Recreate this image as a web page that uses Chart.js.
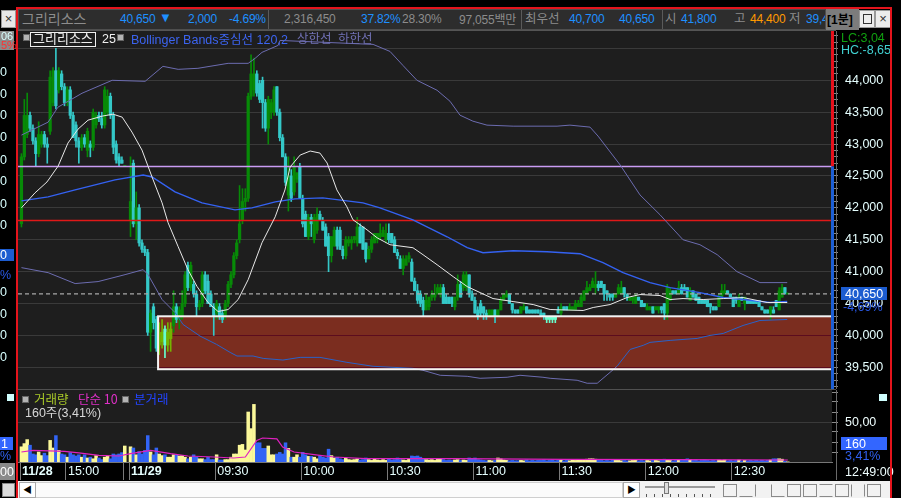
<!doctype html>
<html>
<head>
<meta charset="utf-8">
<title>그리리소스 1분</title>
<script src="https://cdn.jsdelivr.net/npm/chart.js@4.4.1/dist/chart.umd.min.js"></script>
<style>
body{margin:0;width:901px;height:498px;background:#000;position:relative;overflow:hidden;
     font-family:"Liberation Sans","Noto Sans CJK KR",sans-serif;font-size:12.5px;}
.t{position:absolute;white-space:nowrap;line-height:14px;}
.h{font-size:12px;letter-spacing:-0.2px;top:12px;}
.k{font-family:"Noto Sans CJK KR",sans-serif;}
.sep{position:absolute;width:1px;background:#5a5a5a;}
.sq{position:absolute;width:5px;height:5px;background:#b4b4b4;border:1px solid #666;}
canvas{position:absolute;}
.ico{position:absolute;top:484px;width:12px;height:11px;border:1px solid #8a8a8a;}
</style>
</head>
<body>

<!-- top info bar -->
<div style="position:absolute;left:1px;top:10px;width:13px;height:16px;background:#e8e8e8;border:1px solid #9a9a9a;color:#333;font-size:13px;line-height:16px;text-align:center">×</div>
<div style="position:absolute;left:18px;top:9px;width:808px;height:21px;background:#2d2d2d;border:1px solid #4e4e4e;box-sizing:border-box"></div>
<div class="t k" style="left:22px;top:11px;color:#8c8c8c;font-size:14px">그리리소스</div>
<div class="t h" style="left:120px;color:#1e90ff">40,650</div>
<div class="t" style="left:159px;top:11px;color:#1e90ff;font-size:13px">▼</div>
<div class="t h" style="left:188px;color:#1e90ff">2,000</div>
<div class="t h" style="left:229px;color:#1e90ff">-4.69%</div>
<div class="sep" style="left:268px;top:10px;height:19px"></div>
<div class="t h" style="left:284px;color:#8c8c8c">2,316,450</div>
<div class="t h" style="left:361px;color:#1e90ff">37.82%</div>
<div class="t h" style="left:402px;color:#8c8c8c">28.30%</div>
<div class="t h" style="left:459px;color:#8c8c8c">97,055<span class="k">백만</span></div>
<div class="sep" style="left:521px;top:10px;height:19px"></div>
<div class="t k" style="left:525px;top:11px;color:#8c8c8c;font-size:12.5px">최우선</div>
<div class="t h" style="left:569px;color:#1e90ff">40,700</div>
<div class="t h" style="left:619px;color:#1e90ff">40,650</div>
<div class="sep" style="left:662px;top:10px;height:19px"></div>
<div class="t k" style="left:665px;top:11px;color:#8c8c8c;font-size:12.5px">시</div>
<div class="t h" style="left:681px;color:#1e90ff">41,800</div>
<div class="t k" style="left:734px;top:11px;color:#8c8c8c;font-size:12.5px">고</div>
<div class="t h" style="left:750px;color:#ff9a00">44,400</div>
<div class="t k" style="left:789px;top:11px;color:#8c8c8c;font-size:12.5px">저</div>
<div style="position:absolute;left:806px;top:12px;width:19px;height:15px;overflow:hidden"><div class="t h" style="left:0;top:0;color:#1e90ff">39,450</div></div>
<div style="position:absolute;left:826px;top:9px;width:33px;height:21px;background:#7c7c7c"></div>
<div class="t" style="left:827px;top:12px;color:#000;font-weight:bold;font-size:12px">[1<span class="k">분</span>]</div>
<div style="position:absolute;left:859px;top:10px;width:14px;height:16px;background:#ececec;border:1px solid #999"><div style="position:absolute;left:3px;top:3px;width:7px;height:8px;border:1px solid #333"></div></div>
<div style="position:absolute;left:875px;top:10px;width:14px;height:16px;background:#ececec;border:1px solid #999;color:#333;font-size:13px;line-height:16px;text-align:center">×</div>

<!-- panels -->
<div style="position:absolute;left:18px;top:30px;width:818px;height:1px;background:#555"></div>
<canvas id="main" width="871" height="358" style="left:18px;top:31px"></canvas>
<div style="position:absolute;left:18px;top:389px;width:818px;height:1px;background:#505050"></div>
<canvas id="vol" width="871" height="90" style="left:18px;top:390px"></canvas>

<!-- main legend -->
<div class="sq" style="left:23px;top:34px"></div>
<div style="position:absolute;left:30px;top:32px;width:64px;height:13px;border:1px solid #f0f0f0"></div>
<div class="t k" style="left:33px;top:31px;color:#f0f0f0;font-size:13px">그리리소스</div>
<div class="t" style="left:102px;top:32px;color:#f0f0f0">25</div>
<div class="sq" style="left:117px;top:34px"></div>
<div class="t" style="left:131px;top:32px;color:#3c64f0">Bollinger Bands<span class="k">중심선</span> 120,2</div>
<div class="t k" style="left:297px;top:31px;color:#7070b4">상한선</div>
<div class="t k" style="left:338px;top:31px;color:#7070b4">하한선</div>

<!-- main right axis extras -->
<div class="t" style="left:841px;top:31px;color:#10a010">LC:3,04</div>
<div class="t" style="left:841px;top:43px;color:#40d0d0">HC:-8,65</div>
<div style="position:absolute;left:841px;top:287px;width:46px;height:13px;background:#1c5cd0"></div>
<div class="t" style="left:845px;top:287px;color:#fff">40,650</div>
<div class="t" style="left:843px;top:300px;color:#2a5ae8">-4,69%</div>

<!-- volume legend -->
<div class="sq" style="left:22px;top:396px"></div>
<div class="t k" style="left:34px;top:392px;color:#a8c828">거래량</div>
<div class="t k" style="left:78px;top:392px;color:#e030c8">단순 10</div>
<div class="sq" style="left:122px;top:396px"></div>
<div class="t k" style="left:134px;top:392px;color:#2244ff">분거래</div>
<div class="t" style="left:25px;top:405px;color:#d8d8d8">160<span class="k">주</span>(3,41%)</div>

<!-- volume right axis extras -->
<div style="position:absolute;left:879px;top:394px;width:8px;height:7px;background:#d0ffff"></div>
<div class="t" style="left:845px;top:415px;color:#f0ffff">50,00</div>
<div style="position:absolute;left:841px;top:437px;width:46px;height:13px;background:#3366ff"></div>
<div class="t" style="left:845px;top:437px;color:#fff">160</div>
<div class="t" style="left:845px;top:449px;color:#3060f0">3,41%</div>
<div class="t" style="left:845px;top:465px;color:#f0ffff">12:49:00</div>

<!-- left clipped column -->
<div style="position:absolute;left:0;top:31px;width:14px;height:19px;background:#8a8a8a"></div>
<div class="t" style="left:1px;top:31px;color:#d8ffff;font-size:11px;line-height:10px">06</div>
<div class="t" style="left:1px;top:40px;color:#ff3030;font-size:11px;line-height:10px">5%</div>
<div class="t" style="left:0;top:65px;color:#d8ffff">0</div>
<div class="t" style="left:0;top:87px;color:#d8ffff">0</div>
<div class="t" style="left:0;top:108px;color:#d8ffff">0</div>
<div class="t" style="left:0;top:130px;color:#d8ffff">0</div>
<div class="t" style="left:0;top:153px;color:#d8ffff">0</div>
<div class="t" style="left:0;top:174px;color:#d8ffff">0</div>
<div class="t" style="left:0;top:197px;color:#d8ffff">0</div>
<div class="t" style="left:0;top:218px;color:#d8ffff">0</div>
<div style="position:absolute;left:0;top:249px;width:14px;height:12px;background:#1c5cd0"></div>
<div class="t" style="left:0;top:248px;color:#fff">0</div>
<div class="t" style="left:0;top:268px;color:#2a5ae8">%</div>
<div class="t" style="left:0;top:285px;color:#d8ffff">0</div>
<div class="t" style="left:0;top:307px;color:#d8ffff">0</div>
<div class="t" style="left:0;top:328px;color:#d8ffff">0</div>
<div class="t" style="left:0;top:350px;color:#d8ffff">0</div>
<div style="position:absolute;left:7px;top:394px;width:7px;height:7px;background:#d0ffff"></div>
<div style="position:absolute;left:0;top:437px;width:13px;height:13px;background:#3366ff"></div>
<div class="t" style="left:1px;top:437px;color:#fff">1</div>
<div class="t" style="left:0;top:449px;color:#3060f0">%</div>
<div style="position:absolute;left:0;top:463px;width:15px;height:17px;background:#8a8a8a"></div>
<div class="t" style="left:0;top:465px;color:#fff">00</div>
<div style="position:absolute;left:2px;top:483px;width:11px;height:12px;border:1px solid #8a8a8a;background:#dcdcdc"></div>

<!-- scroll bar -->
<div style="position:absolute;left:18px;top:481px;width:872px;height:17px;background:#f2f2f2"></div>
<div style="position:absolute;left:19px;top:482px;width:602px;height:14px;background:#fbfbfb;border:1px solid #cfcfcf"></div>
<div style="position:absolute;left:19px;top:482px;width:15px;height:14px;background:#fff;border:1px solid #aaa;font-size:9px;line-height:14px;text-align:center;color:#000">◀</div>
<div style="position:absolute;left:623px;top:482px;width:15px;height:14px;background:#fff;border:1px solid #aaa;font-size:9px;line-height:14px;text-align:center;color:#000">▶</div>
<div style="position:absolute;left:645px;top:486px;width:70px;height:2px;background:#9a9a9a"></div>
<div style="position:absolute;left:664px;top:482px;width:3px;height:10px;background:#ddd;border:1px solid #777"></div>
<div style="position:absolute;left:646px;top:494px;width:70px;height:3px;background:repeating-linear-gradient(90deg,#555 0 1px,transparent 1px 8px)"></div>
<div class="ico" style="left:723px"></div>
<div class="ico" style="left:739px;border-color:transparent;border-bottom-color:#8a8a8a"></div>
<div class="ico" style="left:755px;border-color:transparent;border-left-color:#8a8a8a"></div>
<div class="ico" style="left:771px;border-color:transparent;border-bottom-color:#8a8a8a;border-left-color:#8a8a8a"></div>
<div class="ico" style="left:787px"></div>
<div class="ico" style="left:803px"></div>
<div class="ico" style="left:819px;border-color:#8a8a8a transparent"></div>
<div class="ico" style="left:835px"></div>
<div class="ico" style="left:851px;border-color:transparent #8a8a8a"></div>
<div class="ico" style="left:867px"></div>

<!-- red frame -->
<div style="position:absolute;left:0;top:0;width:901px;height:7px;background:#000"></div>
<div style="position:absolute;left:16px;top:7px;width:876px;height:491px;border-top:2px solid #e4141c;border-left:2px solid #e4141c;border-right:2px solid #e4141c;box-sizing:border-box"></div>

<script>
// --- 1분봉 데이터 (11/28 14:44 ~ 15:30, 11/29 09:00 ~ 12:49), 인덱스 37은 휴장 공백
var openP = [
41750,42800,43150,43450,43250,43050,42850,43000,43150,43000,
43200,43650,44150,43850,44100,43900,43650,43850,43450,43300,
43050,42950,43100,42900,43000,42950,43300,43450,43400,43300,
43500,43750,43450,43000,42800,42750,42650,null,41800,42700,
41750,42000,41450,41350,41300,40050,40450,40250,39850,39900,
40100,39850,39950,40150,40450,40250,40300,40500,41100,40750,
40800,40650,40450,40500,40950,40850,40650,40450,40350,40450,
40350,40300,40500,40800,40950,41250,41500,41800,42100,42150,
43750,43850,44100,43950,44000,43650,43250,43500,43500,43900,
43500,43100,42800,42200,42500,42250,42450,42650,42150,41900,
41550,41850,41500,41650,41900,41800,41700,41550,41250,41400,
41650,41650,41350,41250,41450,41450,41500,41450,41700,41700,
41450,41200,41350,41450,41500,41550,41550,41500,41600,41600,
41500,41300,41200,41050,41100,41200,41150,40850,40700,40650,
40550,40400,40450,40600,40600,40650,40650,40750,40600,40600,
40600,40450,40600,40800,40750,40750,40950,40650,40550,40400,
40500,40450,40350,40300,40300,40400,40300,40400,40550,40600,
40650,40500,40400,40400,40350,40400,40450,40400,40400,40400,
40400,40350,40350,40300,40300,40300,40300,40400,40350,40450,
40450,40400,40400,40400,40450,40450,40550,40650,40700,40750,
40750,40800,40850,40800,40700,40650,40650,40600,40650,40650,
40750,40650,40550,40550,40500,40600,40550,40500,40400,40400,
40450,40400,40400,40450,40500,40350,40550,40700,40700,40650,
40750,40750,40750,40550,40700,40650,40600,40550,40550,40550,
40500,40450,40450,40450,40600,40650,40700,40650,40600,40600,
40450,40600,40500,40550,40550,40550,40550,40550,40450,40400,
40400,40350,40400,40550,40400,40600,40750,40650];
var highP = [
42850,43700,43800,43500,43300,43100,43350,43200,43200,43100,
44150,44200,44500,44200,44150,43950,43900,43900,43500,43350,
43100,43150,43150,43250,43050,43550,43500,43500,43500,43900,
43850,43800,43500,43050,42850,42800,42650,null,42800,42750,
42250,42050,41500,41400,41350,40400,40500,40300,40200,40250,
40150,40200,40200,40700,40500,40450,40700,41000,41150,41150,
40850,40700,40550,41000,41000,40950,40700,40500,40550,40500,
40400,40550,40850,41000,41300,41500,42350,42300,42300,43800,
44400,44350,44150,44000,44050,43700,43750,43700,43900,43900,
43550,43150,42850,42800,42600,42800,42550,42700,42200,41950,
41900,41900,41900,42000,41950,41850,41750,41600,41550,41700,
41700,41700,41400,41550,41550,41550,41550,41850,41750,41700,
41450,41400,41550,41600,41600,41750,41700,41750,41750,41600,
41550,41350,41250,41250,41250,41300,41200,40900,40800,40700,
40600,40650,40600,40700,40800,40800,40800,40800,40650,40600,
40600,40600,40950,40850,41000,41000,40950,40700,40600,40450,
40550,40450,40400,40400,40400,40400,40400,40600,40650,40700,
40650,40500,40400,40400,40450,40500,40450,40400,40400,40400,
40400,40400,40350,40300,40300,40300,40300,40450,40500,40450,
40450,40500,40450,40550,40550,40650,40700,40850,40800,40900,
41000,40850,40850,40800,40700,40650,40650,40650,40800,40850,
40750,40650,40600,40600,40650,40600,40550,40500,40500,40450,
40450,40450,40450,40450,40500,40800,40750,40700,40700,40850,
40800,40800,40750,40750,40700,40650,40600,40550,40550,40550,
40500,40450,40450,40650,40800,40800,40700,40650,40600,40600,
40650,40600,40600,40550,40550,40550,40550,40550,40450,40400,
40400,40450,40450,40550,40750,40800,40750,40650];
var lowP = [
41700,42750,43100,43200,43000,42650,42800,42950,42950,42700,
43150,43600,43550,43800,43850,43600,43600,43400,43100,42950,
42700,42900,42950,42800,42800,42900,43250,43350,43250,43250,
43450,43400,42850,42700,42650,42700,42650,null,41550,41700,
41500,41400,41300,41250,40000,39750,40100,39750,39700,39800,
39650,39750,39750,40050,40200,40100,40250,40450,40700,40700,
40600,40300,40400,40450,40650,40500,40450,40000,40250,40250,
40200,40250,40450,40750,40900,41200,41450,41750,41950,42100,
43700,43750,43750,43650,43250,43200,43000,43400,43450,43450,
43050,42800,42350,41950,42100,42200,42400,42150,41700,41550,
41500,41550,41450,41600,41800,41650,41400,41000,41150,41400,
41350,41350,41200,41200,41400,41350,41450,41400,41450,41350,
41150,41200,41300,41450,41450,41500,41550,41450,41450,41450,
41300,41200,41050,40950,41100,41150,40850,40700,40500,40450,
40300,40400,40400,40550,40550,40650,40600,40500,40500,40500,
40450,40400,40550,40600,40700,40700,40600,40550,40350,40250,
40300,40250,40250,40300,40300,40200,40300,40400,40550,40600,
40500,40350,40350,40350,40350,40400,40350,40350,40350,40350,
40350,40300,40250,40200,40200,40200,40200,40350,40300,40400,
40400,40400,40400,40400,40450,40450,40550,40650,40700,40750,
40650,40700,40750,40550,40550,40550,40550,40600,40650,40650,
40600,40550,40550,40500,40500,40550,40450,40450,40400,40400,
40350,40400,40350,40350,40250,40250,40550,40650,40650,40650,
40650,40700,40600,40550,40600,40550,40500,40500,40500,40450,
40350,40400,40400,40450,40600,40650,40650,40600,40450,40500,
40450,40550,40400,40500,40500,40500,40500,40450,40400,40350,
40350,40250,40350,40450,40400,40600,40650,40650];
var closeP = [
42800,43450,43450,43250,43050,42850,43150,43150,43000,42950,
44050,44150,43600,44150,43900,43650,43850,43450,43100,43050,
42950,43100,43000,43200,42950,43500,43450,43400,43300,43850,
43750,43450,42950,42750,42700,42700,42650,null,42100,41750,
42000,41450,41350,41300,40050,40350,40200,39800,40050,40050,
39850,40050,40100,40450,40250,40400,40500,40950,40750,41100,
40650,40450,40500,40950,40700,40500,40450,40300,40500,40300,
40250,40500,40800,40950,41250,41450,41750,42100,42150,43750,
44100,44100,43800,43700,43650,43250,43700,43650,43850,43500,
43100,42800,42400,42500,42150,42650,42550,42150,41750,41550,
41850,41750,41850,41900,41800,41650,41400,41250,41550,41650,
41400,41350,41250,41500,41500,41500,41550,41700,41450,41350,
41200,41350,41500,41600,41600,41600,41650,41600,41500,41450,
41300,41250,41050,41200,41200,41250,40850,40700,40550,40500,
40400,40550,40600,40650,40650,40750,40750,40500,40500,40500,
40500,40600,40800,40600,40950,40950,40650,40550,40350,40300,
40350,40350,40300,40400,40400,40300,40400,40550,40650,40650,
40500,40400,40350,40350,40450,40450,40350,40350,40350,40350,
40350,40300,40300,40250,40250,40250,40250,40350,40450,40400,
40400,40450,40450,40500,40500,40600,40700,40750,40750,40850,
40800,40750,40750,40650,40650,40600,40600,40650,40750,40750,
40650,40600,40600,40600,40600,40550,40450,40450,40450,40450,
40350,40450,40450,40400,40350,40750,40700,40650,40650,40750,
40650,40700,40600,40700,40600,40550,40500,40500,40500,40450,
40450,40400,40400,40600,40700,40700,40650,40600,40450,40550,
40600,40550,40600,40500,40500,40500,40500,40450,40400,40350,
40350,40450,40350,40450,40700,40750,40650,40650];
var volume = [
19000,23000,28000,21000,10000,9000,12500,8000,11000,8000,
27000,17500,33000,14500,10000,9000,6000,11700,9000,7500,
9000,6000,9000,5000,6000,4000,8000,5000,3000,6000,
7500,4000,10000,9000,10000,11700,20000,null,19000,17500,
9000,13000,10000,14500,33000,12500,9000,17500,10000,8000,
9000,6000,6000,9000,9000,7500,8000,6000,4000,6000,
9000,6000,4000,4000,3000,6000,3000,3000,9000,2500,
2500,3000,3000,6000,10000,10000,21000,22000,15000,62500,
41700,72000,24000,24000,17000,17000,20000,9000,9000,10000,
12000,10000,24000,17000,6000,6000,9000,6000,12000,9000,
7000,7000,6000,4000,8000,6000,5000,16000,8000,5000,
6000,4000,3000,5000,3000,2500,3000,4000,2500,3000,
5000,3000,2000,4000,2500,2000,3000,2000,3500,2500,
3000,5000,3000,2500,2000,4000,7500,7000,7500,6000,
4000,3000,2500,3000,2000,3500,4000,3000,2000,2500,
2000,2500,3000,2000,2500,2000,5000,4500,5000,3000,
2500,2000,1500,2000,1500,2000,5000,4000,2500,2000,
1500,2000,1500,1500,2000,1500,2500,1500,2000,1500,
2000,2000,2500,1500,2000,2500,1500,2000,2500,1500,
2000,1500,2500,2000,2500,3000,2500,3500,4000,4000,
3500,2500,2000,1500,2000,1500,2500,2000,2000,1500,
2000,1500,1500,2000,2500,1500,2000,1500,2000,1500,
2500,2000,1500,2500,3500,3000,2000,1500,2000,2500,
2000,2500,4000,3000,2000,2500,1500,2000,2500,2000,
1500,2000,1500,2500,2000,2500,1500,2000,1500,2000,
2500,1500,2000,1500,2000,1500,2000,1500,2000,1500,
2000,2500,4000,4000,4000,3500,1000,160];

// 이동평균 25 (흰색)
var maIdx = [0,4.7,8.9,12.8,16.2,19.7,23.2,28.1,31.9,35.1,38.5,42,45.5,49,51.1,54.6,58,61.2,65,68.5,72,75.5,79,83.8,88.4,91.8,93.6,97.1,100.6,104,106.5,109.9,113.4,115.5,120.4,123.9,128.4,136.4,139.9,144.8,150.4,155.3,159.8,164.3,171.3,178.3,184.2,195.7,199.2,205.1,211,215.5,222.5,226,230.5,237.5,244.5,251.4,259.8,266.8];
var maVal = [42000,42234,42406,42656,43016,43234,43375,43438,43469,43422,43188,42906,42484,42078,41766,41391,41031,40766,40516,40375,40406,40563,40875,41453,41859,42281,42641,42828,42891,42859,42703,42281,42016,41813,41656,41531,41422,41375,41266,41109,40922,40766,40672,40578,40531,40484,40406,40391,40438,40484,40594,40641,40625,40563,40578,40563,40578,40594,40516,40516];
// Bollinger Bands 120,2
var midIdx = [0,9.3,18.7,32.6,42.4,45.5,53.5,62.9,74.4,80.3,88.4,95.3,105,119,124.9,136.4,148.3,155.3,160.8,171.3,183.1,194.6,202.6,209.6,219,226,236.4,244.5,251.4,260.8,266.8];
var midVal = [42109,42172,42281,42438,42516,42484,42250,42078,41969,42000,42094,42141,42156,42078,42000,41813,41547,41375,41297,41328,41313,41281,41141,40984,40828,40750,40672,40594,40563,40516,40531];
var upIdx = [0,9.3,12.7,21.1,31.6,43.1,49.3,54.6,61.5,72,79,81.4,83.8,89.4,90.1,122.5,128.4,132.9,137.8,144.8,149.3,152.8,157.3,162.2,171.3,186.6,191.1,198.1,200.9,208.6,215.5,222.5,230.5,236.4,242.4,249.3,257.3,266.8];
var upVal = [43141,43344,43578,43797,44000,43984,44219,44172,44188,44266,44266,44344,44438,44547,44625,44563,44453,44234,44000,43844,43672,43453,43359,43297,43281,43281,43297,43266,43125,42672,42203,41891,41500,41422,41266,41000,40828,40828];
var lowIdx = [0,9.3,18.7,26.7,36.1,42.4,44.1,49,53.5,56.3,62.2,68,72.7,75.1,80.7,84.2,91.1,97.1,104,113.4,122.5,136.4,139.9,145.9,155.3,159.8,169.2,173.7,181.7,184.2,193.6,197.1,200.6,205.1,207.5,212.1,216.6,219,226,235.4,239.9,244.5,251.4,257.3,266.8];
var lowVal = [41063,40984,40813,40844,40953,41031,40953,40563,40359,40172,39990,39859,39734,39677,39677,39640,39614,39656,39656,39578,39516,39484,39453,39375,39359,39328,39344,39375,39344,39328,39297,39250,39250,39422,39516,39781,39844,39891,39922,39953,40000,40031,40156,40234,40250];
// 거래량 단순 10
var vmaIdx = [0,4,15,20,27,34,38,45,52,58,67,74,78,82,84,89,91,95,104,109,120,150,190,230,267];
var vmaVal = [12500,14600,13300,11300,8300,7500,10400,14600,10400,7500,6250,5000,6250,27000,30000,29000,18750,12500,8300,6250,4200,4200,3300,3000,2500];

var prevClose = 42650, dayOpen = 41800, lastPrice = 40650;
var zoneStart = 47.6, zoneTop = 40300, zoneBottom = 39470;
var timeTickIdx = [0, 16, 36, 38, 68, 98, 128, 158, 188, 218, 248];
var timeTickLbl = ['11/28', '15:00', '', '11/29', '09:30', '10:00', '10:30', '11:00', '11:30', '12:00', '12:30'];
var volTickVals = [12500, 25000, 37500, 50000, 62500, 75000, 87500];
var xMin = -1.2, xMax = 282.4, priceMin = 39160, priceMax = 44773;

var FONT = "'Liberation Sans', sans-serif";
var priceTickVals = [];
for (var p = 39200; p <= 44700; p += 100) priceTickVals.push(p);

function pts(idx, val) {
    return idx.map(function (x, k) { return {x: x, y: val[k]}; });
}
function inZone(x, y) {
    return x >= zoneStart && y < zoneTop && y > zoneBottom;
}
function candleColor(i) {
    var o = openP[i], c = closeP[i];
    var box = inZone(i, (o + c) / 2);
    if (c >= o) return box ? '#74b400' : '#078a07';
    return box ? '#66ffcc' : '#34c8c8';
}
function noPad(s) {
    s.paddingTop = 0; s.paddingBottom = 0;
}

var wickData = [], bodyData = [], volData = [];
for (var i = 0; i < closeP.length; i++) {
    if (closeP[i] == null) continue;
    wickData.push({x: i, y: [lowP[i], highP[i]]});
    bodyData.push({x: i, y: [openP[i], closeP[i]]});
    volData.push({x: i, y: volume[i]});
}

var plotBg = {
    id: 'plotBg',
    beforeDraw: function (chart) {
        var a = chart.chartArea, ctx = chart.ctx;
        ctx.save();
        ctx.fillStyle = '#1e1e1e';
        ctx.fillRect(a.left, a.top, a.right - a.left, a.bottom - a.top);
        ctx.restore();
    },
    afterDraw: function (chart) {
        var a = chart.chartArea, ctx = chart.ctx;
        ctx.save();
        ctx.fillStyle = '#6a6a6a';
        ctx.fillRect(a.right + 4, a.top, 1, chart.height - a.top);
        ctx.restore();
    }
};

var zonePlugin = {
    id: 'zone',
    beforeDatasetsDraw: function (chart) {
        var a = chart.chartArea, ctx = chart.ctx, x = chart.scales.x, y = chart.scales.y;
        var x0 = x.getPixelForValue(zoneStart), y0 = y.getPixelForValue(zoneTop), y1 = y.getPixelForValue(zoneBottom);
        ctx.save();
        ctx.fillStyle = '#7b2d1f';
        ctx.fillRect(x0, y0, a.right - x0, y1 - y0);
        ctx.strokeStyle = '#5c0c1e';
        ctx.lineWidth = 1;
        priceTickVals.forEach(function (v) {
            if (v % 500 === 0 && v < zoneTop && v > zoneBottom) {
                var py = Math.round(y.getPixelForValue(v)) + 0.5;
                ctx.beginPath(); ctx.moveTo(x0, py); ctx.lineTo(a.right, py); ctx.stroke();
            }
        });
        ctx.restore();
    },
    afterDatasetsDraw: function (chart) {
        var a = chart.chartArea, ctx = chart.ctx, x = chart.scales.x, y = chart.scales.y;
        var x0 = x.getPixelForValue(zoneStart), y0 = y.getPixelForValue(zoneTop), y1 = y.getPixelForValue(zoneBottom);
        ctx.save();
        ctx.strokeStyle = '#f4f4f4';
        ctx.lineWidth = 2;
        ctx.strokeRect(x0, y0, a.right - x0, y1 - y0);
        ctx.restore();
    },
    afterDraw: function (chart) {
        var a = chart.chartArea, ctx = chart.ctx, y = chart.scales.y;
        var yp = y.getPixelForValue(prevClose);
        ctx.save();
        ctx.fillStyle = '#e8101c';
        ctx.fillRect(a.right - 1, a.top, 3, yp - a.top);
        ctx.fillStyle = '#1d5fd6';
        ctx.fillRect(a.right - 1, yp, 3, a.bottom - yp);
        ctx.restore();
    }
};

function flatLine(v, color, width, dash) {
    return {type: 'line', data: [{x: xMin, y: v}, {x: xMax, y: v}], borderColor: color,
            borderWidth: width, borderDash: dash || [], pointRadius: 0, order: 1};
}

new Chart(document.getElementById('main'), {
    type: 'bar',
    data: {
        datasets: [
            {type: 'line', data: pts(maIdx, maVal), borderColor: '#e8e8e8', borderWidth: 1, pointRadius: 0, order: 0},
            {type: 'line', data: pts(midIdx, midVal), borderColor: '#3462f2', borderWidth: 1.4, pointRadius: 0, order: 0},
            {type: 'line', data: pts(upIdx, upVal), borderColor: '#6c6cb0', borderWidth: 1, pointRadius: 0, order: 0},
            {type: 'line', data: pts(lowIdx, lowVal), borderColor: '#6c6cb0', borderWidth: 1, pointRadius: 0, order: 0,
             segment: {borderColor: function (s) {
                 var mx = (s.p0.parsed.x + s.p1.parsed.x) / 2, my = (s.p0.parsed.y + s.p1.parsed.y) / 2;
                 return inZone(mx, my) ? '#2a62c8' : '#6c6cb0';
             }}},
            flatLine(prevClose, '#c99cf4', 1.5),
            flatLine(dayOpen, '#e01818', 1.5),
            flatLine(lastPrice, '#a8a8a8', 1.2, [4, 3]),
            {data: wickData, grouped: false, barThickness: 1, order: 3,
             backgroundColor: function (c) { return c.raw ? candleColor(c.raw.x) : '#078a07'; }},
            {data: bodyData, grouped: false, barThickness: 2.6, minBarLength: 1, order: 2,
             backgroundColor: function (c) { return c.raw ? candleColor(c.raw.x) : '#078a07'; }}
        ]
    },
    options: {
        responsive: false, animation: false, devicePixelRatio: 1,
        layout: {padding: 0},
        plugins: {legend: {display: false}, tooltip: {enabled: false}},
        scales: {
            x: {type: 'linear', min: xMin, max: xMax, offset: false, display: false, grid: {offset: false}},
            y: {
                position: 'right', min: priceMin, max: priceMax,
                afterBuildTicks: function (s) { s.ticks = priceTickVals.map(function (v) { return {value: v}; }); },
                afterFit: function (s) { s.width = 57; noPad(s); },
                border: {display: false},
                grid: {
                    color: function (c) { return c.tick && c.tick.value % 500 === 0 ? '#3a3a3a' : 'rgba(0,0,0,0)'; },
                    tickColor: '#8a8a8a', tickLength: 6, lineWidth: 1
                },
                ticks: {
                    color: '#e6ffff', padding: 7, autoSkip: false, font: {family: FONT, size: 12.5},
                    callback: function (v) { return (v % 500 === 0 && v <= 44000) ? v.toLocaleString('en-US') : ''; }
                }
            }
        }
    },
    plugins: [plotBg, zonePlugin]
});

new Chart(document.getElementById('vol'), {
    type: 'bar',
    data: {
        datasets: [
            {type: 'line', data: pts(vmaIdx, vmaVal), borderColor: '#e020c0', borderWidth: 1.2, pointRadius: 0, order: 0},
            {data: volData, barPercentage: 1, categoryPercentage: 1, order: 1,
             backgroundColor: function (c) {
                 if (!c.raw) return '#3264f5';
                 var i = c.raw.x;
                 return closeP[i] >= openP[i] ? '#fbf89a' : '#3264f5';
             }}
        ]
    },
    options: {
        responsive: false, animation: false, devicePixelRatio: 1,
        layout: {padding: 0},
        plugins: {legend: {display: false}, tooltip: {enabled: false}},
        scales: {
            x: {
                type: 'linear', min: xMin, max: xMax, offset: false, position: 'bottom',
                afterBuildTicks: function (s) { s.ticks = timeTickIdx.map(function (v) { return {value: v - 0.5}; }); },
                afterFit: function (s) { s.height = 18; s.paddingLeft = 0; s.paddingRight = 0; },
                border: {display: true, color: '#777'},
                grid: {drawOnChartArea: false, drawTicks: true, tickLength: 18, color: '#7a7a7a', offset: false},
                ticks: {
                    autoSkip: false, maxRotation: 0, align: 'start', labelOffset: 2, padding: -16, color: '#e6ffff',
                    font: function (c) {
                        var lbl = timeTickLbl[c.index] || '';
                        return {family: FONT, size: 12.5, weight: lbl.indexOf('/') >= 0 ? 'bold' : 'normal'};
                    },
                    callback: function (v, k) { return timeTickLbl[k]; }
                }
            },
            y: {
                position: 'right', min: 0, max: 90000,
                afterBuildTicks: function (s) { s.ticks = volTickVals.map(function (v) { return {value: v}; }); },
                afterFit: function (s) { s.width = 57; noPad(s); },
                border: {display: false},
                grid: {
                    color: function (c) { return c.tick && c.tick.value === 50000 ? '#3a3a3a' : 'rgba(0,0,0,0)'; },
                    tickColor: '#8a8a8a', tickLength: 6
                },
                ticks: {display: false}
            }
        }
    },
    plugins: [plotBg]
});
</script>
</body>
</html>
